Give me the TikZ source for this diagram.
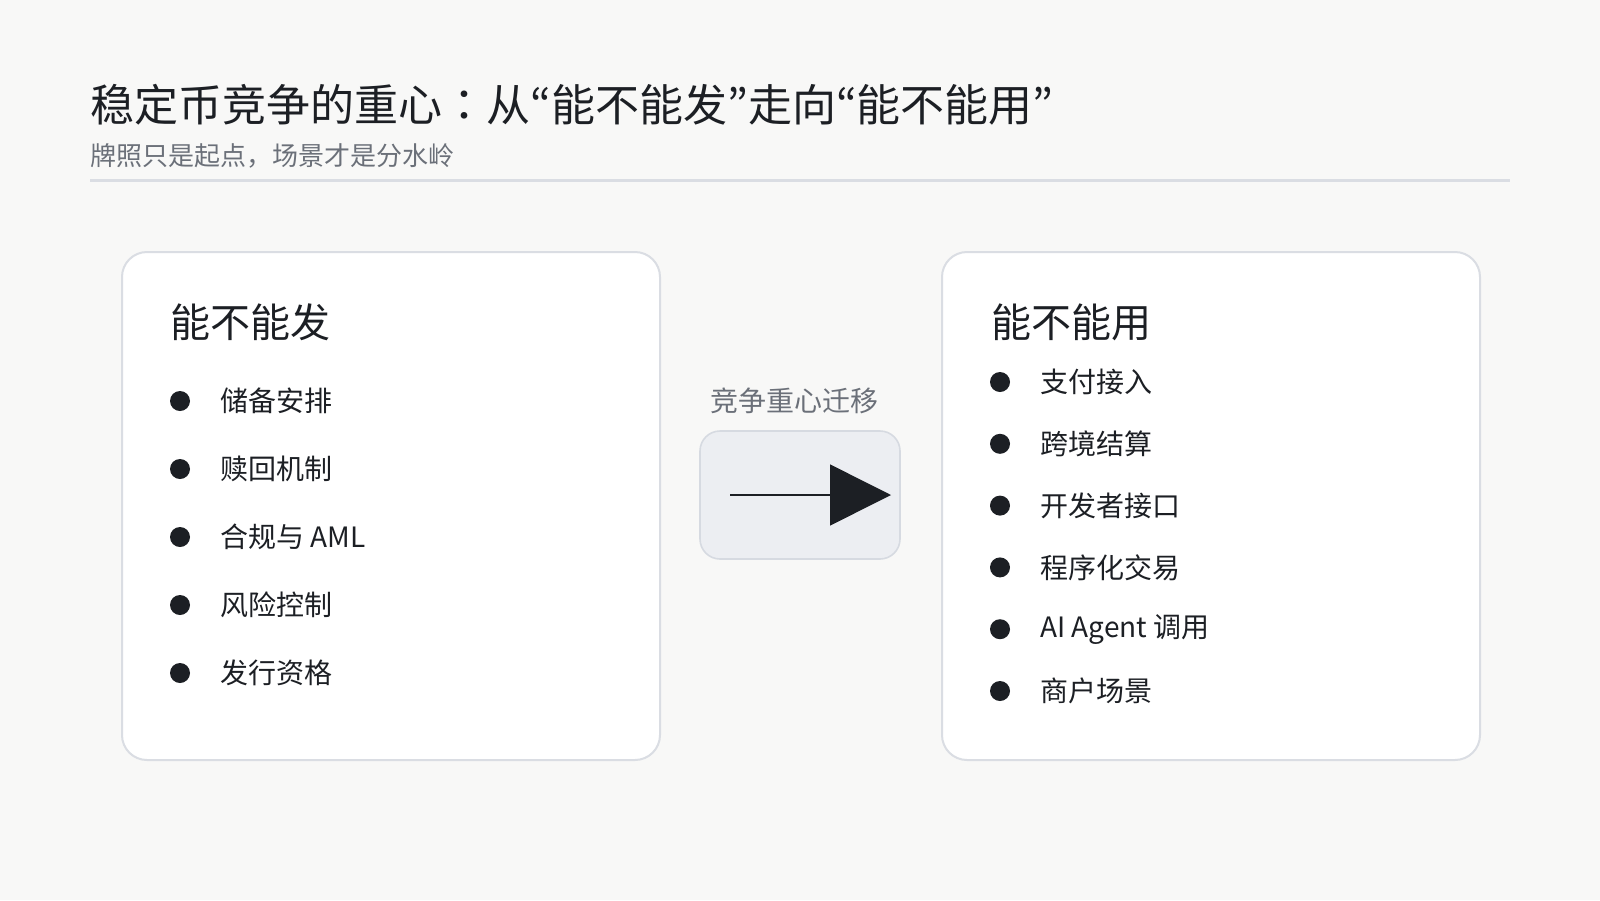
\documentclass[tikz,border=0pt]{standalone}
\usepackage{fontspec}
\setmainfont{Noto Sans CJK SC}
\newfontfamily\jpmark{Noto Sans CJK JP}
\usetikzlibrary{arrows.meta}
\usetikzlibrary{positioning}

\definecolor{pagebg}{HTML}{F8F8F7}
\definecolor{inkdark}{HTML}{1C1F24}
\definecolor{inkgray}{HTML}{6B7079}
\definecolor{cardline}{HTML}{DADDE3}
\definecolor{shiftfill}{HTML}{ECEEF2}
\definecolor{shiftline}{HTML}{D6DAE1}

\tikzset{
  card/.style={draw=cardline, line width=1pt, fill=white, rounded corners=12.5pt,
    inner sep=0pt, anchor=north west, minimum width=269pt, minimum height=254pt},
  shiftbox/.style={draw=shiftline, line width=0.8pt, fill=shiftfill, rounded corners=10pt,
    inner sep=0pt, minimum width=100pt, minimum height=64pt},
  heading/.style={anchor=west, inner sep=0pt, text=inkdark, font=\fontsize{20pt}{24pt}\selectfont},
  item/.style={anchor=west, inner sep=0pt, text=inkdark, font=\fontsize{14pt}{17pt}\selectfont},
  dot/.style={circle, fill=inkdark, inner sep=0pt, minimum size=10pt},
}

\begin{document}
\begin{tikzpicture}[x=0.5pt, y=-0.5pt]
% page
\fill[pagebg] (0,0) rectangle (1600,900);
\useasboundingbox (0,0) rectangle (1600,900);

% title block
\node[anchor=west, inner sep=0pt, text=inkdark, font=\fontsize{22pt}{26pt}\selectfont] (title) at (90,105)
  {稳定币竞争的重心{\jpmark ：}从{\jpmark “}能不能发{\jpmark ”}走向{\jpmark “}能不能用{\jpmark ”}};
\node[anchor=west, inner sep=0pt, text=inkgray, font=\fontsize{13pt}{16pt}\selectfont] (subtitle) at (90,156)
  {牌照只是起点，场景才是分水岭};
\coordinate (ruleL) at (90,180);
\coordinate (ruleR) at (1510,180);
\draw[cardline, line width=1.5pt] (ruleL) -- (ruleR);

% left card
\node[card] (issue) at (121,251) {};
\node[heading] (issuehead) at (170,322) {能不能发};
\foreach \t [count=\i] in {储备安排, 赎回机制, 合规与 AML, 风险控制, 发行资格} {
  \node[dot] (ldot\i) at (180,401+68*\i-68) {};
  \node[item] (litem\i) at (220,401+68*\i-68) {\t};
}

% right card
\node[card] (use) at (941,251) {};
\node[heading] (usehead) at (991,322) {能不能用};
\foreach \t [count=\i] in {支付接入, 跨境结算, 开发者接口, 程序化交易, AI Agent 调用, 商户场景} {
  \node[dot] (rdot\i) at (1000,382+61.8*\i-61.8) {};
  \node[item] (ritem\i) at (1040,382+61.8*\i-61.8) {\t};
}

% middle
\node[inner sep=0pt, text=inkgray, font=\fontsize{14pt}{17pt}\selectfont] (shiftlabel) at (794,401) {竞争重心迁移};
\node[shiftbox] (shift) at (800,495) {};
\coordinate (atail) at ([xshift=-35pt]shift.center);
\coordinate (ahead) at ([xshift=45.5pt]shift.center);
\draw[inkdark, line width=0.75pt, -{Triangle[length=30.5pt, width=30.5pt]}] (atail) -- (ahead);
\end{tikzpicture}
\end{document}
